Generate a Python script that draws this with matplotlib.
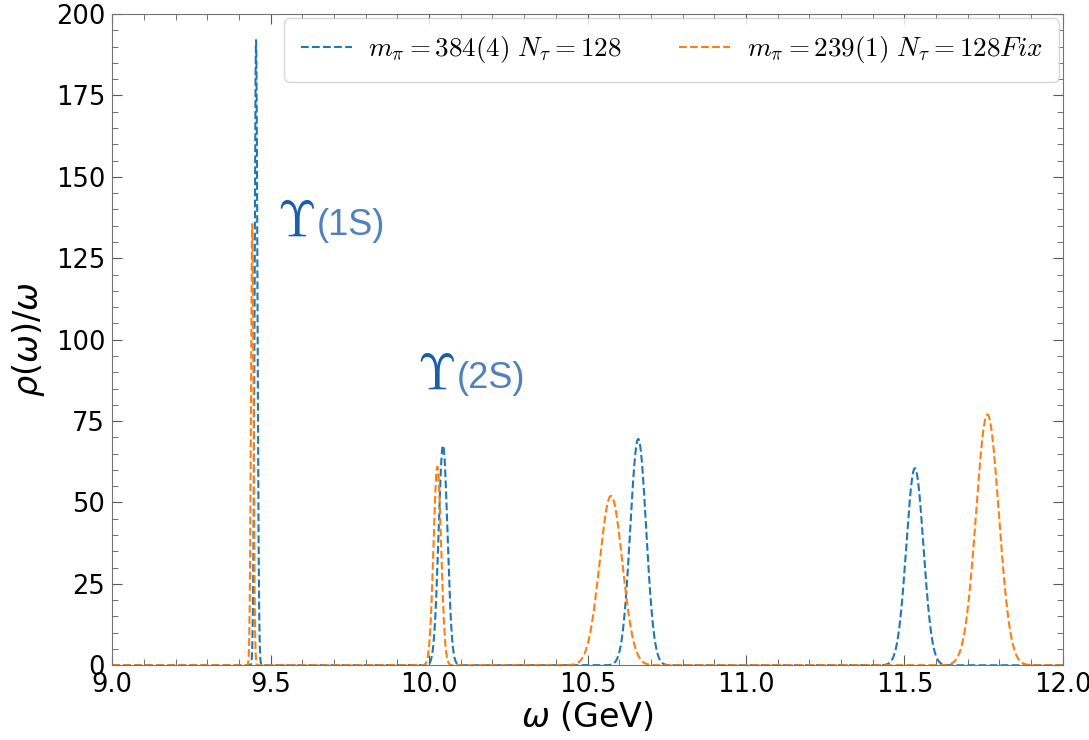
"""
spectral function plot, two ensembles
"""

import numpy as np
import matplotlib
matplotlib.use('Agg')
import matplotlib.pyplot as plt
from matplotlib.ticker import MultipleLocator

plt.rcParams['mathtext.fontset'] = 'dejavusans'

# peak parameters: position (GeV), height, width sigma (GeV)
pos_384 = [9.454, 10.044, 10.660, 11.533]
height_384 = [192.0, 67.5, 69.5, 60.5]
sigma_384 = [0.0045, 0.014, 0.025, 0.027]

pos_239 = [9.442, 10.026, 10.574, 11.762]
height_239 = [135.5, 61.0, 52.0, 77.0]
sigma_239 = [0.0040, 0.012, 0.036, 0.036]

labels = [r'$m_\pi=384(4)\ N_\tau=128$', r'$m_\pi=239(1)\ N_\tau=128Fix$']
states = ['(1S)', '(2S)']
state_pos = [(9.520, 132), (9.962, 85)]


def spectrum(w, pos, height, sigma):
    rho = np.zeros_like(w)
    for p, h, s in zip(pos, height, sigma):
        rho = rho + h * np.exp(-0.5 * ((w - p) / s) ** 2)
    return rho


w = np.linspace(9.0, 12.0, 12001)

fig = plt.figure(figsize=(10.89, 7.40), dpi=100)
ax = fig.add_axes([0.103, 0.101, 0.873, 0.880])

ax.plot(w, spectrum(w, pos_384, height_384, sigma_384), '--', color='#1f77b4', lw=1.5, label=labels[0])
ax.plot(w, spectrum(w, pos_239, height_239, sigma_239), '--', color='#ff7f0e', lw=1.5, label=labels[1])

for name, (xs, ys) in zip(states, state_pos):
    t = ax.text(xs, ys, r'$\Upsilon$', fontsize=36, color='#1a5fa8', va='baseline',
                math_fontfamily='cm')
    ax.annotate(name, xy=(1.0, 0.0), xycoords=t, fontsize=26, color='#4f81bd', va='bottom',
                family='Liberation Sans', xytext=(1, 2), textcoords='offset points')

ax.set_xlim(9.0, 12.0)
ax.set_ylim(0, 200)
ax.xaxis.set_major_locator(MultipleLocator(0.5))
ax.xaxis.set_minor_locator(MultipleLocator(0.1))
ax.yaxis.set_major_locator(MultipleLocator(25))
ax.yaxis.set_minor_locator(MultipleLocator(5))
ax.tick_params(which='both', direction='in', top=True, right=True, color='0.35')
ax.tick_params(which='major', length=7, labelsize=18.5, pad=5)
ax.tick_params(which='minor', length=4)
for sp in ax.spines.values():
    sp.set_color('0.45')

ax.set_xlabel(r'$\omega$ (GeV)', fontsize=24, labelpad=1)
ax.set_ylabel(r'$\rho(\omega)/\omega$', fontsize=24, labelpad=6)

leg = ax.legend(loc='upper right', ncol=2, fontsize=19.5, frameon=True, borderpad=0.6,
                columnspacing=2.1, handlelength=1.9, handletextpad=0.6,
                borderaxespad=0.15)
for t in leg.get_texts():
    t.set_math_fontfamily('cm')

fig.savefig('out.png', dpi=100)
